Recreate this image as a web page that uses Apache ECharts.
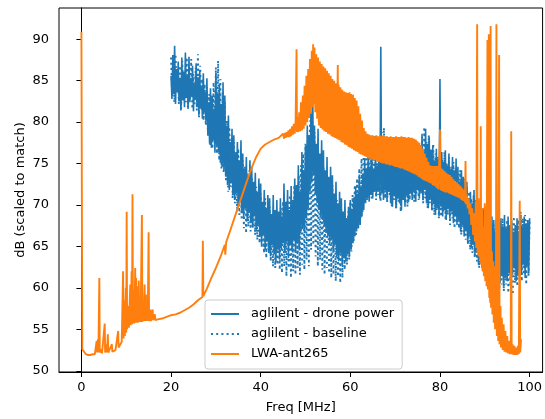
<!DOCTYPE html>
<html>
<head>
<meta charset="utf-8">
<script src="https://cdn.jsdelivr.net/npm/echarts@6/dist/echarts.min.js"></script>
<style>html,body{margin:0;padding:0;background:#fff;}#c{width:545px;height:419px;}</style>
</head>
<body>
<div id="c"></div>
<script>
// ---- data ----
const seriesNames = ['aglilent - drone power', 'aglilent - baseline', 'LWA-ant265'];
const xTicks = [0, 20, 40, 60, 80, 100];
const yTicks = [50, 55, 60, 65, 70, 75, 80, 85, 90];

// drone power: frequency bins from 20 MHz, every 0.2 MHz (one row = 2 MHz)
const droneStartMHz = 20, droneStepMHz = 0.2;
const droneDb = [
  85.6, 82.8, 88.1, 83.4, 89.2, 82.2, 86.4, 83.6, 87.3, 82.5,
  85.2, 81.4, 87.8, 82.6, 86.1, 81.8, 88.4, 82.9, 85.7, 81.6,
  87.9, 82.4, 85.3, 83.1, 86.8, 81.3, 84.6, 82.7, 87.1, 81.9,
  85.4, 80.8, 86.3, 81.7, 84.2, 80.4, 85.9, 81.2, 83.6, 80.1,
  85.3, 78.6, 82.4, 77.4, 84.1, 76.9, 83.2, 77.8, 81.6, 76.3,
  85.8, 77.2, 83.4, 76.4, 84.6, 75.1, 82.2, 74.6, 84.8, 74.2,
  83.2, 73.4, 79.6, 72.4, 80.8, 71.8, 77.6, 72.6, 79.2, 71.2,
  78.4, 70.6, 76.2, 71.4, 77.6, 69.8, 75.4, 70.6, 77.8, 69.2,
  76.2, 68.4, 74.4, 69.6, 75.8, 68.2, 73.6, 69.1, 75.4, 67.8,
  74.6, 67.4, 72.8, 68.6, 73.9, 66.8, 71.6, 67.6, 73.2, 66.2,
  72.6, 65.2, 70.4, 66.4, 71.8, 64.6, 69.6, 65.6, 71.2, 64.2,
  70.8, 63.8, 68.9, 65.2, 71.2, 64.1, 69.4, 63.2, 70.6, 64.6,
  69.2, 63.4, 70.8, 64.8, 68.6, 65.4, 72.6, 64.2, 70.4, 65.6,
  71.8, 63.6, 69.4, 65.2, 72.3, 64.4, 70.6, 65.8, 73.2, 64.2,
  72.4, 65.4, 74.8, 64.6, 71.6, 66.8, 76.4, 67.2, 74.2, 66.6,
  77.2, 68.4, 79.6, 69.6, 78.4, 71.6, 81.2, 72.8, 83.1, 73.6,
  79.6, 71.4, 77.4, 70.2, 79.2, 69.4, 76.2, 68.6, 77.8, 68.2,
  76.6, 67.4, 74.2, 66.6, 75.8, 66.2, 73.4, 65.4, 74.6, 65.8,
  73.6, 64.4, 71.4, 65.2, 72.8, 63.8, 70.2, 63.2, 71.6, 64.2,
  70.8, 62.8, 69.2, 63.6, 70.6, 63.2, 68.4, 64.2, 69.8, 63.8,
  70.6, 64.6, 69.4, 65.4, 70.9, 66.2, 72.2, 66.8, 71.4, 67.2,
  73.4, 67.6, 72.2, 68.6, 73.8, 69.4, 75.6, 70.2, 74.4, 70.8,
  76.2, 70.4, 74.6, 71.2, 75.8, 70.8, 74.4, 71.6, 75.6, 71.2,
  74.8, 71.6, 76.1, 70.8, 89.1, 71.4, 75.4, 70.6, 76.8, 71.8,
  75.2, 70.4, 76.8, 71.6, 74.8, 70.2, 76.2, 69.8, 75.4, 71.2,
  76.6, 69.6, 74.6, 70.8, 76.9, 70.2, 75.2, 69.4, 76.2, 70.6,
  74.8, 69.8, 76.8, 71.2, 75.6, 70.4, 77.1, 71.4, 75.4, 70.6,
  76.8, 71.6, 75.4, 70.4, 77.4, 71.8, 76.2, 70.8, 77.2, 71.4,
  78.6, 70.6, 76.4, 71.8, 79.2, 70.2, 77.4, 69.6, 78.2, 70.8,
  76.6, 69.4, 77.2, 70.2, 75.4, 68.8, 76.8, 69.6, 75.6, 68.6,
  85.2, 69.8, 76.4, 68.6, 75.2, 69.4, 76.6, 68.2, 74.8, 69.6,
  76.2, 68.4, 74.4, 69.2, 75.8, 67.8, 74.2, 68.6, 75.6, 67.6,
  74.6, 68.2, 72.8, 66.8, 74.2, 67.6, 73.4, 66.2, 72.4, 66.8,
  72.8, 65.4, 70.8, 66.2, 71.6, 64.8, 70.2, 65.2, 71.8, 63.8,
  70.6, 64.2, 69.4, 62.8, 70.2, 63.6, 68.8, 62.4, 69.6, 63.2,
  69.8, 61.4, 68.2, 62.6, 69.2, 60.8, 67.4, 61.8, 68.6, 60.6,
  68.2, 61.6, 66.8, 60.4, 67.8, 61.2, 66.6, 60.6, 68.4, 61.4,
  67.4, 60.2, 68.8, 61.2, 67.2, 60.8, 68.6, 61.8, 67.6, 60.6,
  68.2, 61.6, 66.8, 62.4, 67.6, 60.8, 68.4, 61.4, 66.6, 62.2,
  68.8, 61.6, 67.4, 62.8, 68.6, 61.2, 67.8, 62.6, 68.2, 61.8,
  68.4
];

// baseline: frequency bins from 20 MHz, every 0.25 MHz (one row = 2 MHz)
const baseStartMHz = 20, baseStepMHz = 0.25;
const baseDb = [
  87.8, 83.2, 86.6, 82.4, 88.2, 83.8, 85.4, 82.2,
  86.8, 81.6, 87.4, 82.8, 85.6, 82.4, 87.8, 81.8,
  86.4, 82.8, 87.6, 81.6, 85.8, 82.2, 86.6, 81.4,
  88.2, 80.6, 86.8, 81.4, 85.2, 80.2, 84.6, 79.6,
  84.2, 78.2, 83.4, 77.2, 82.6, 76.8, 84.8, 77.4,
  86.6, 76.2, 87.4, 75.4, 85.2, 74.4, 83.6, 73.8,
  82.4, 72.8, 80.2, 71.6, 79.4, 72.2, 78.2, 70.8,
  77.6, 70.2, 76.4, 69.2, 76.8, 68.8, 75.2, 68.2,
  75.4, 67.2, 74.6, 66.6, 73.8, 67.4, 74.2, 66.8,
  73.4, 67.2, 72.6, 66.4, 72.2, 65.8, 71.6, 65.4,
  71.4, 64.8, 70.2, 64.2, 70.8, 63.6, 69.6, 64.4,
  69.8, 63.2, 68.6, 62.6, 69.4, 62.4, 68.8, 62.8,
  68.4, 62.2, 69.6, 61.8, 70.4, 62.6, 69.2, 61.4,
  70.6, 62.4, 71.2, 61.2, 70.2, 62.0, 72.4, 61.6,
  71.8, 62.4, 73.6, 61.6, 74.8, 62.8, 76.2, 62.2,
  77.4, 63.4, 78.6, 62.6, 80.2, 64.6, 81.4, 65.2,
  78.8, 63.8, 77.2, 62.6, 76.2, 63.4, 75.4, 62.2,
  74.6, 61.6, 73.8, 62.4, 72.6, 61.8, 71.8, 61.2,
  72.4, 61.6, 71.2, 60.8, 70.6, 61.4, 69.8, 60.6,
  69.4, 61.2, 68.8, 62.2, 68.6, 62.8, 69.2, 63.4,
  70.4, 64.4, 71.2, 65.6, 72.4, 66.2, 73.2, 67.2,
  74.4, 68.4, 75.6, 69.2, 76.8, 70.2, 77.4, 70.6,
  77.2, 71.2, 76.4, 70.8, 77.8, 71.4, 78.4, 70.6,
  76.8, 71.2, 77.6, 70.4, 78.8, 71.6, 79.3, 70.8,
  77.4, 70.4, 76.2, 71.2, 76.8, 69.8, 75.8, 70.6,
  76.4, 69.6, 77.2, 70.4, 75.6, 69.2, 76.6, 70.8,
  75.8, 70.2, 77.4, 69.8, 76.2, 70.6, 77.6, 71.2,
  76.6, 70.4, 77.8, 71.2, 76.4, 70.6, 77.2, 71.6,
  78.2, 70.2, 79.4, 70.8, 77.6, 69.6, 78.4, 70.2,
  76.8, 69.2, 77.4, 68.8, 76.2, 69.4, 75.8, 68.4,
  76.2, 68.6, 75.6, 69.2, 76.4, 68.2, 75.2, 68.8,
  75.8, 67.6, 74.6, 68.4, 75.2, 67.2, 74.4, 67.8,
  73.8, 67.2, 74.2, 66.4, 72.8, 66.8, 73.2, 65.8,
  72.2, 65.2, 71.6, 64.6, 70.8, 64.2, 71.2, 63.6,
  70.2, 63.2, 69.6, 62.4, 70.4, 62.8, 69.2, 61.8,
  69.4, 61.2, 68.4, 60.6, 68.8, 61.4, 67.8, 60.4,
  67.6, 60.8, 68.2, 60.2, 67.2, 59.8, 67.8, 60.4,
  68.4, 59.6, 67.6, 60.4, 68.2, 59.4, 67.4, 60.2,
  67.8, 59.2, 68.6, 60.6, 67.4, 60.2, 68.2, 61.2,
  69.2, 60.8, 68.4, 61.6, 68.8, 60.4, 68.2, 61.4,
  68.2
];

// LWA-ant265: [MHz, dB]
const lwaPoints = [
  [0.0,90.9],[0.2,52.6],[0.6,52.3],[1.0,52.0],[1.5,51.9],[2.0,51.9],[2.5,52.0],[3.0,52.0],
  [3.3,52.1],[3.4,53.6],[3.5,52.2],[3.7,53.8],[3.8,52.2],[4.0,61.2],[4.1,52.2],[4.4,52.6],
  [4.6,52.1],[5.0,52.2],[5.2,55.7],[5.3,52.2],[5.6,53.2],[5.7,52.2],[5.9,54.4],[6.0,52.2],
  [6.4,52.4],[6.8,53.2],[6.9,52.3],[7.2,52.4],[7.6,52.5],[8.0,52.7],[8.2,54.8],[8.3,52.8],
  [8.6,53.0],[9.0,53.5],[9.3,62.0],[9.4,53.9],[9.6,58.5],[9.7,54.2],[9.9,60.0],[10.0,54.6],
  [10.1,69.2],[10.2,55.0],[10.5,57.8],[10.6,55.2],[10.9,60.4],[11.0,55.5],[11.2,62.0],[11.3,55.6],
  [11.4,71.3],[11.5,55.7],[11.7,59.8],[11.8,55.7],[12.0,62.4],[12.1,55.8],[12.2,61.2],[12.3,55.8],
  [12.5,60.2],[12.6,55.8],[12.8,60.9],[12.9,55.9],[13.1,58.4],[13.2,55.9],[13.5,68.8],[13.6,55.9],
  [13.8,58.2],[13.9,56.0],[14.1,60.4],[14.2,56.0],[14.4,59.2],[14.5,56.0],[14.7,57.6],[14.8,56.0],
  [15.0,66.7],[15.1,56.0],[15.4,57.4],[15.5,56.0],[15.9,57.4],[16.0,56.1],[16.4,56.8],[16.5,56.1],
  [17.0,56.2],[18.0,56.3],[19.0,56.5],[20.0,56.7],[21.0,56.8],[22.0,57.0],[23.0,57.3],[24.0,57.6],
  [25.0,58.0],[26.0,58.5],[27.0,58.9],[27.1,65.7],[27.2,59.0],[28.0,59.9],[29.0,61.2],[30.0,62.4],
  [31.0,63.7],[32.0,65.2],[32.1,64.0],[32.3,65.5],[33.0,66.6],[34.0,68.2],[35.0,69.8],[36.0,71.4],
  [37.0,73.0],[38.0,74.5],[39.0,75.8],[40.0,76.8],[41.0,77.3],[42.0,77.6],[43.0,77.9],[44.0,78.1],
  [45.0,78.6],[45.2,78.0],[45.4,78.7],[45.6,78.1],[45.8,78.8],[46.0,78.2],[46.2,79.0],[46.4,78.2],[46.6,79.2],[46.8,78.3],
  [47.0,79.5],[47.2,78.5],[47.4,79.8],[47.6,78.6],[47.8,80.2],[48.0,88.8],[48.1,78.8],[48.2,80.6],[48.4,78.8],[48.6,81.2],[48.8,78.9],
  [49.0,82.4],[49.2,79.0],[49.4,83.2],[49.6,79.2],[49.8,84.4],[50.0,79.6],[50.2,85.6],[50.4,80.0],[50.6,86.4],[50.8,80.5],
  [51.0,87.6],[51.2,81.0],[51.4,88.6],[51.6,81.8],[51.7,89.4],[51.8,82.2],[52.0,89.0],[52.2,81.2],[52.4,88.2],[52.6,80.4],[52.8,87.8],
  [53.0,79.6],[53.2,87.3],[53.4,79.3],[53.6,87.0],[53.8,79.1],[54.0,86.7],[54.2,78.9],[54.4,86.5],[54.6,78.8],[54.8,86.2],
  [55.0,78.6],[55.2,85.9],[55.4,78.5],[55.6,85.6],[55.8,78.3],[56.0,85.2],[56.2,78.2],[56.4,85.0],[56.6,78.1],[56.8,84.7],
  [57.0,78.0],[57.2,86.9],[57.3,77.9],[57.4,84.5],[57.6,77.8],[57.8,84.2],[58.0,77.6],[58.2,83.9],[58.4,77.5],[58.6,83.7],[58.8,77.3],
  [59.0,83.6],[59.2,77.2],[59.4,83.5],[59.6,77.0],[59.8,83.6],[60.0,76.9],[60.2,83.4],[60.4,76.8],[60.6,83.3],[60.8,76.6],
  [61.0,82.9],[61.2,76.5],[61.4,82.6],[61.6,76.4],[61.8,81.9],[62.0,76.2],[62.2,81.0],[62.4,76.1],[62.6,80.2],[62.8,76.0],
  [63.0,79.3],[63.2,75.9],[63.4,78.9],[63.6,75.8],[63.8,78.6],[64.0,75.6],[64.2,78.5],[64.4,75.6],[64.6,78.4],[64.8,75.5],
  [65.0,78.4],[65.2,75.4],[65.4,78.3],[65.6,75.4],[65.8,78.4],[66.0,75.2],[66.2,78.3],[66.4,75.2],[66.6,78.4],[66.8,75.1],
  [67.0,78.3],[67.2,75.0],[67.4,78.4],[67.6,75.0],[67.8,78.3],[68.0,74.9],[68.2,78.3],[68.4,74.9],[68.6,78.2],[68.8,74.8],
  [69.0,78.3],[69.2,74.8],[69.4,78.2],[69.6,74.7],[69.8,78.2],[70.0,74.6],[70.2,78.3],[70.4,74.6],[70.6,78.2],[70.8,74.5],
  [71.0,78.2],[71.2,74.4],[71.4,78.3],[71.6,74.4],[71.8,78.2],[72.0,74.3],[72.2,78.2],[72.4,74.2],[72.6,78.1],[72.8,74.1],
  [73.0,78.2],[73.2,74.0],[73.4,78.1],[73.6,73.9],[73.8,78.1],[74.0,73.8],[74.2,78.0],[74.4,73.7],[74.6,77.9],[74.8,73.6],
  [75.0,77.7],[75.2,73.4],[75.4,77.5],[75.6,73.3],[75.8,77.2],[76.0,73.1],[76.2,76.8],[76.4,73.0],[76.6,76.2],[76.8,72.9],
  [77.0,75.7],[77.2,72.8],[77.4,75.2],[77.6,72.7],[77.8,74.8],[78.0,72.6],[78.2,74.7],[78.4,72.4],[78.6,74.7],[78.8,72.3],
  [79.0,74.7],[79.2,72.1],[79.4,74.7],[79.6,71.9],[79.8,74.6],[80.0,79.1],[80.1,71.8],[80.2,74.5],[80.4,71.7],[80.6,74.3],[80.8,71.6],
  [81.0,74.1],[81.2,71.5],[81.4,73.9],[81.6,71.5],[81.8,73.7],[82.0,71.4],[82.2,73.6],[82.4,71.3],[82.6,73.4],[82.8,71.2],
  [83.0,73.1],[83.2,71.1],[83.4,72.9],[83.6,71.0],[83.8,72.7],[84.0,70.9],[84.2,72.5],[84.4,70.8],[84.6,72.3],[84.8,70.6],
  [85.0,72.0],[85.2,70.5],[85.4,71.8],[85.6,70.3],[85.7,75.3],[85.8,70.1],[86.0,71.2],[86.2,69.6],[86.4,70.8],[86.6,68.9],[86.8,70.2],
  [87.0,67.6],[87.2,69.6],[87.4,66.4],[87.6,69.0],[87.8,65.6],[88.0,70.4],
  [88.1,64.8],[88.3,91.8],[88.4,64.2],[88.6,70.8],[88.7,63.8],[88.9,68.4],[89.0,63.2],[89.1,79.5],[89.2,62.8],[89.4,69.6],
  [89.5,62.0],[89.7,67.4],[89.8,61.4],[90.0,70.2],[90.1,60.8],[90.3,66.4],[90.4,60.2],[90.6,89.9],[90.7,59.8],[90.9,90.6],
  [91.0,58.8],[91.1,67.2],[91.2,58.2],[91.3,91.6],[91.4,57.6],[91.6,64.4],[91.7,56.8],[91.9,63.2],[92.0,55.8],[92.2,62.6],
  [92.3,55.0],[92.5,60.8],[92.6,91.8],[92.7,54.2],[92.9,60.2],[93.0,53.6],[93.2,88.1],[93.3,53.2],[93.5,57.8],[93.6,52.8],
  [93.8,56.4],[94.0,52.5],[94.2,55.6],[94.4,52.3],[94.6,54.8],[94.8,52.2],[95.0,54.2],[95.2,52.1],[95.4,53.6],[95.6,52.0],
  [95.8,53.4],[95.9,78.9],[96.0,52.0],[96.2,53.2],[96.4,51.9],[96.6,53.0],[96.8,51.9],[97.0,52.8],[97.2,51.9],[97.4,53.0],
  [97.6,52.0],[97.8,70.5],[97.9,52.2],[98.0,53.0],[98.1,53.8]
];

// build series data (x from the frequency grid)
const droneData = droneDb.map((v, i) => [+(droneStartMHz + i * droneStepMHz).toFixed(2), v]);
const baseData = baseDb.map((v, i) => [+(baseStartMHz + i * baseStepMHz).toFixed(2), v]);

const FONT = 'DejaVu Sans';
const chart = echarts.init(document.getElementById('c'), null, {renderer: 'canvas'});
chart.setOption({
  animation: false,
  backgroundColor: '#ffffff',
  grid: {left: 59, right: 2, top: 8, bottom: 45, show: true, borderColor: '#000', borderWidth: 1, backgroundColor: 'transparent'},
  xAxis: {
    type: 'value', min: -5, max: 102.9,
    name: 'Freq [MHz]', nameLocation: 'middle', nameGap: 29, nameMoveOverlap: false,
    nameTextStyle: {fontFamily: FONT, fontSize: 13, color: '#000'},
    axisLine: {show: true, lineStyle: {color: '#000', width: 1}},
    axisTick: {show: true, length: 5, lineStyle: {color: '#000', width: 1}, customValues: xTicks},
    axisLabel: {fontFamily: FONT, fontSize: 13, color: '#000', margin: 9, customValues: xTicks},
    splitLine: {show: false}
  },
  yAxis: {
    type: 'value', min: 49.85, max: 93.77,
    name: 'dB (scaled to match)', nameLocation: 'middle', nameGap: 32, nameMoveOverlap: false,
    nameTextStyle: {fontFamily: FONT, fontSize: 13, color: '#000'},
    axisLine: {show: true, lineStyle: {color: '#000', width: 1}},
    axisTick: {show: true, length: 5, lineStyle: {color: '#000', width: 1}, customValues: yTicks},
    axisLabel: {fontFamily: FONT, fontSize: 13, color: '#000', margin: 10, customValues: yTicks},
    splitLine: {show: false}
  },
  legend: {
    data: seriesNames, orient: 'vertical', left: 205, top: 300,
    backgroundColor: 'rgba(255,255,255,0.8)', borderColor: '#cccccc', borderWidth: 1, borderRadius: 3,
    padding: [7, 8, 8, 5], itemWidth: 28, itemHeight: 14, itemGap: 6, selectedMode: false,
    itemStyle: {color: 'rgba(0,0,0,0)', borderColor: 'rgba(0,0,0,0)', borderWidth: 0},
    textStyle: {fontFamily: FONT, fontSize: 13, color: '#000', lineHeight: 14, padding: [0, 0, 0, 7]}
  },
  series: [
    {name: seriesNames[0], type: 'line', data: droneData, symbol: 'none', showSymbol: false, z: 2,
     lineStyle: {color: '#1f77b4', width: 1.6}, itemStyle: {color: '#1f77b4'}},
    {name: seriesNames[1], type: 'line', data: baseData, symbol: 'none', showSymbol: false, z: 3,
     lineStyle: {color: '#1f77b4', width: 1.9, type: [2, 3.2]}, itemStyle: {color: '#1f77b4'}},
    {name: seriesNames[2], type: 'line', data: lwaPoints, symbol: 'none', showSymbol: false, z: 4,
     lineStyle: {color: '#ff7f0e', width: 1.9}, itemStyle: {color: '#ff7f0e'}}
  ]
});
</script>
</body>
</html>
